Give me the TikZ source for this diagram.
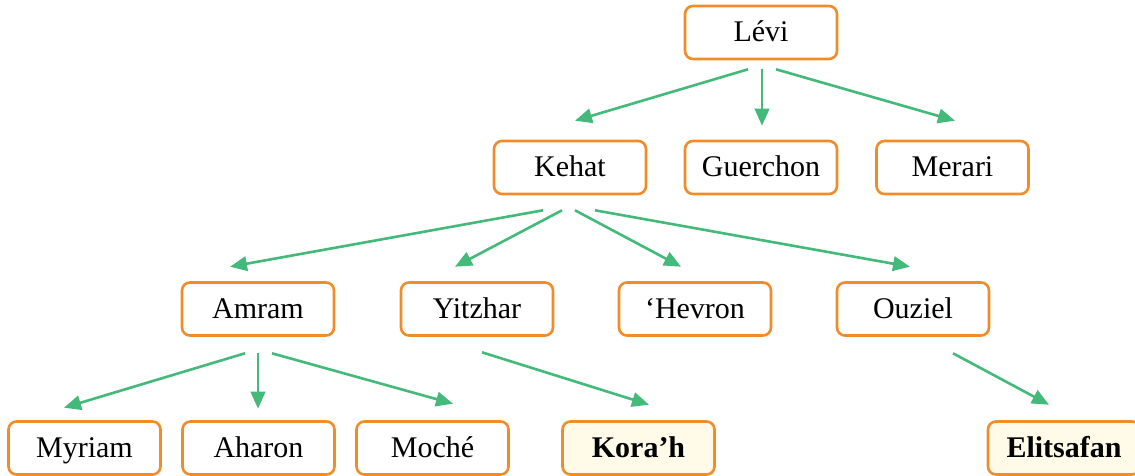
\documentclass[tikz,border=0pt]{standalone}
\usepackage{fontspec}
\setmainfont{Liberation Serif}
\usetikzlibrary{arrows.meta,calc}
\definecolor{boxorange}{HTML}{F28C28}
\definecolor{arrgreen}{HTML}{43B97A}
\definecolor{hlfill}{HTML}{FFFBE8}
\begin{document}
\begin{tikzpicture}[x=1pt,y=1pt,
  person/.style={draw=boxorange, line width=2.6pt, rounded corners=8pt, fill=white,
    minimum width=152pt, minimum height=53pt, inner sep=0pt,
    text height=22pt, text depth=4pt,
    font=\fontsize{30}{34}\selectfont},
  highlight/.style={person, fill=hlfill, font=\fontsize{30}{34}\selectfont\bfseries},
  arr/.style={draw=arrgreen, line width=2.6pt, -{Triangle[length=17pt,width=14.5pt]}}]
\useasboundingbox (0,0) rectangle (1135,-476);
\fill[white] (0,0) rectangle (1135,-476);
% row 1
\node[person] (levi) at (761,-32.5) {Lévi};
% row 2
\node[person] (kehat) at (570,-167.5) {Kehat};
\node[person] (guerchon) at (761,-167.5) {Guerchon};
\node[person] (merari) at (952.5,-167.5) {Merari};
% row 3
\node[person] (amram) at (258,-309) {Amram};
\node[person] (yitzhar) at (477,-309) {Yitzhar};
\node[person] (hevron) at (695,-309) {‘Hevron};
\node[person] (ouziel) at (913,-309) {Ouziel};
% row 4
\node[person] (myriam) at (84.5,-448) {Myriam};
\node[person] (aharon) at (258.5,-448) {Aharon};
\node[person] (moche) at (432.5,-448) {Moché};
\node[highlight] (korah) at (638.5,-448) {Kora’h};
\node[highlight] (elitsafan) at (1064,-448) {Elitsafan};
% connectors
\draw[arr] ($(levi.south)+(-13,-9)$) -- ($(kehat.north)+(5,19)$);
\draw[arr] ($(levi.south)+(1,-9)$) -- ($(guerchon.north)+(1,14)$);
\draw[arr] ($(levi.south)+(15,-9)$) -- ($(merari.north)+(2.5,19)$);
\draw[arr] ($(kehat.south)+(-27,-15)$) -- ($(amram.north)+(-28,14.5)$);
\draw[arr] ($(kehat.south)+(-8,-15)$) -- ($(yitzhar.north)+(-22,14.5)$);
\draw[arr] ($(kehat.south)+(5,-15)$) -- ($(hevron.north)+(-14,14.5)$);
\draw[arr] ($(kehat.south)+(25,-15)$) -- ($(ouziel.north)+(-3,14.5)$);
\draw[arr] ($(amram.south)+(-13,-16.5)$) -- ($(myriam.north)+(-20.5,12.5)$);
\draw[arr] ($(amram.south)+(0,-16.5)$) -- ($(aharon.north)+(-0.5,11.5)$);
\draw[arr] ($(amram.south)+(14,-16.5)$) -- ($(moche.north)+(20.5,16.5)$);
\draw[arr] ($(yitzhar.south)+(5,-15.5)$) -- ($(korah.north)+(10.5,15.5)$);
\draw[arr] ($(ouziel.south)+(40,-16.5)$) -- ($(elitsafan.north)+(-15,15.5)$);
\end{tikzpicture}
\end{document}
